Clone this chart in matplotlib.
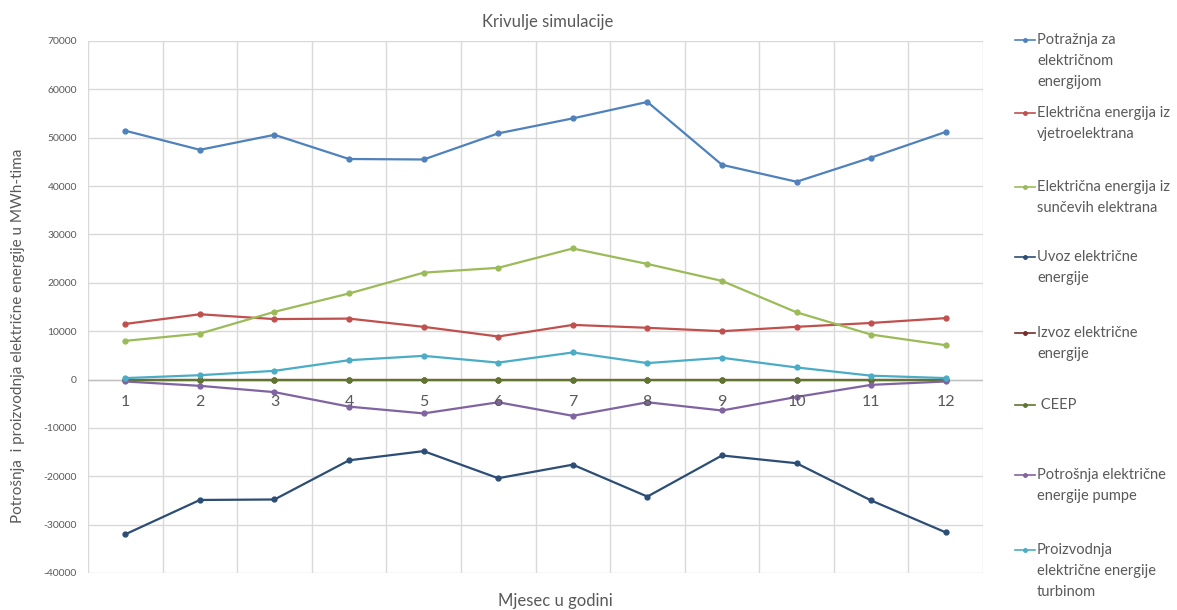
import matplotlib
matplotlib.use("Agg")
import matplotlib.pyplot as plt
from matplotlib.lines import Line2D
import numpy as np

plt.rcParams['font.family'] = ['Lato', 'DejaVu Sans']

months = ['1', '2', '3', '4', '5', '6', '7', '8', '9', '10', '11', '12']

demand = [51450, 47500, 50600, 45600, 45500, 50900, 54000, 57400, 44400, 40900, 45900, 51200]
wind = [11500, 13500, 12500, 12600, 10900, 8900, 11300, 10700, 10000, 10900, 11700, 12700]
solar = [8000, 9500, 14000, 17800, 22100, 23100, 27100, 23900, 20400, 13900, 9300, 7100]
imports = [-32000, -24900, -24800, -16700, -14800, -20400, -17600, -24200, -15700, -17300, -25000, -31600]
exports = [0, 0, 0, 0, 0, 0, 0, 0, 0, 0, 0, 0]
ceep = [0, 0, 0, 0, 0, 0, 0, 0, 0, 0, 0, 0]
pump = [-400, -1300, -2600, -5600, -7000, -4700, -7500, -4700, -6400, -3600, -1100, -400]
turbine = [300, 900, 1800, 4000, 4900, 3500, 5600, 3400, 4500, 2500, 800, 300]

series_labels = [
    "Potražnja za\nelektričnom\nenergijom",
    "Električna energija iz\nvjetroelektrana",
    "Električna energija iz\nsunčevih elektrana",
    "Uvoz električne\nenergije",
    "Izvoz električne\nenergije",
    " CEEP",
    "Potrošnja električne\nenergije pumpe",
    "Proizvodnja\nelektrične energije\nturbinom",
]
series_values = [demand, wind, solar, imports, exports, ceep, pump, turbine]
colors = ['#4F81BD', '#C0504D', '#9BBB59', '#2C4D75', '#772C2A', '#5F7530', '#8064A2', '#4BACC6']

title = "Krivulje simulacije"
xlabel = "Mjesec u godini"
ylabel = "Potrošnja  i proizvodnja električne energije u MWh-tima"
yticks = [-40000, -30000, -20000, -10000, 0, 10000, 20000, 30000, 40000, 50000, 60000, 70000]

W, H = 1177, 610
fig = plt.figure(figsize=(W / 100, H / 100), dpi=100)
L, R, T, B = 88, 983, 41, 573
ax = fig.add_axes([L / W, 1 - B / H, (R - L) / W, (B - T) / H])

text_col = '#595959'
grid_col = '#D9D9D9'

x = np.arange(len(months))
for vals, col in zip(series_values, colors):
    ax.plot(x, vals, color=col, lw=1.6, marker='o', ms=3.5, zorder=3)

ax.set_xlim(-0.5, len(months) - 0.5)
ax.set_ylim(-40000, 70000)
ax.set_yticks(yticks)
ax.set_yticklabels([str(v) for v in yticks], fontsize=7.5, color=text_col)
ax.set_xticks(np.arange(-0.5, len(months), 1.0))
ax.set_xticklabels([])
ax.tick_params(length=0)
ax.tick_params(axis='y', pad=8)
ax.grid(True, color=grid_col, lw=1)
ax.set_axisbelow(True)
for s in ax.spines.values():
    s.set_visible(False)
ax.axhline(0, color='#BFBFBF', lw=1, zorder=1)

# category labels next to the horizontal axis (crosses at 0)
for xi, m in zip(x, months):
    ax.annotate(m, xy=(xi, 0), xytext=(0, -22), textcoords='offset pixels',
                ha='center', va='center', fontsize=11.5, color=text_col)

fig.text(548 / W, 1 - 22 / H, title, ha='center', va='center', fontsize=12, color=text_col)
fig.text(555 / W, 1 - 601 / H, xlabel, ha='center', va='center', fontsize=12, color=text_col)
fig.text(18 / W, 1 - 336 / H, ylabel, ha='center', va='center', rotation=90, fontsize=11, color=text_col)

# legend
leg_y = [40, 113, 187, 257, 333, 405, 475, 550]
line_gap = 21
for lab, col, yy in zip(series_labels, colors, leg_y):
    yf = 1 - yy / H
    fig.add_artist(Line2D([1015 / W, 1025 / W, 1035 / W], [yf, yf, yf], color=col, lw=1.2,
                          marker='o', ms=2.5, markevery=[1], transform=fig.transFigure))
    for i, line in enumerate(lab.split('\n')):
        fig.text(1037 / W, 1 - (yy + i * line_gap) / H, line, ha='left', va='center',
                 fontsize=10.5, color=text_col)

fig.savefig('out.png', dpi=100, facecolor='white')
